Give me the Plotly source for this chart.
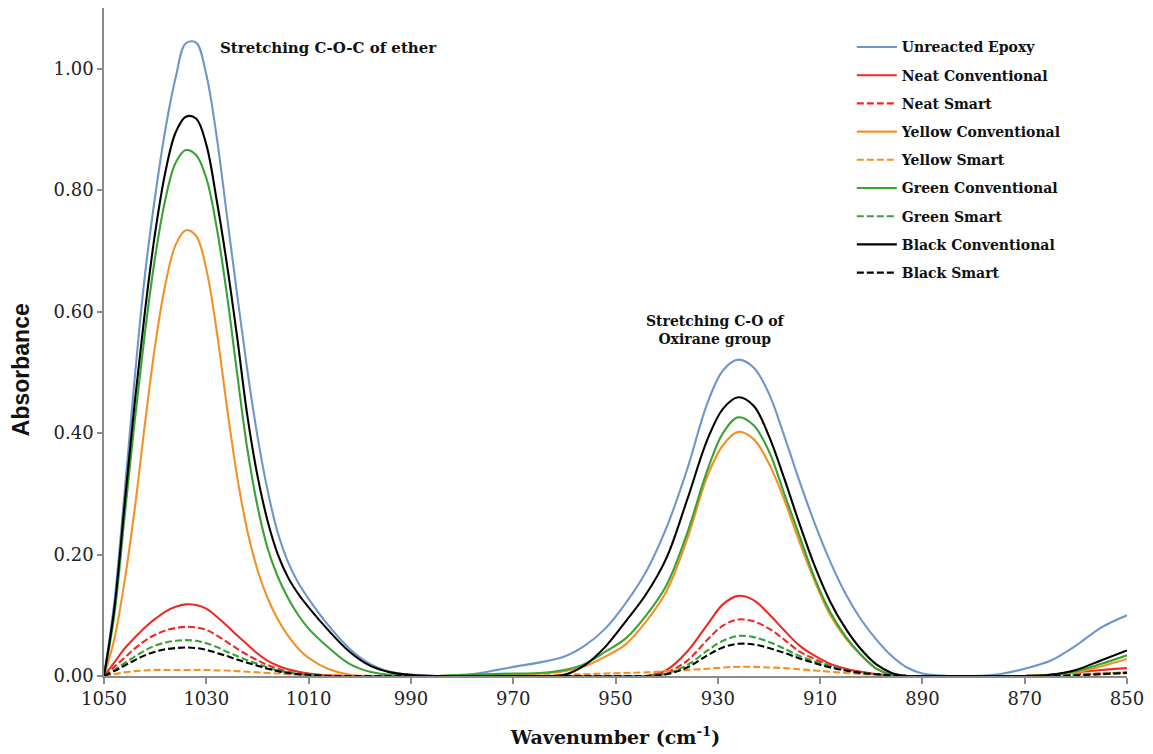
import plotly.graph_objects as go

# Wavenumber grid (cm^-1), denser around the two absorption bands
WAVENUMBER = [
    1050, 1048, 1046, 1044, 1042, 1040, 1038, 1036, 1034, 1032, 1030,
    1028, 1026, 1024, 1022, 1020, 1018, 1016, 1014, 1012, 1010,
    1006, 1002, 998, 994, 990,
    985, 980, 975, 970, 965, 960,
    956, 952, 948, 944, 940, 936, 932,
    929, 926, 923, 920, 917, 914, 911, 908, 905, 902, 899, 896, 893, 890,
    885, 880, 875, 870, 865, 860, 855, 850,
]

UNREACTED_EPOXY = [
    0.000, 0.120, 0.300, 0.490, 0.660, 0.790, 0.900, 0.985, 1.042, 1.043, 0.990,
    0.890, 0.760, 0.630, 0.505, 0.395, 0.305, 0.235, 0.187, 0.153, 0.127,
    0.082, 0.045, 0.020, 0.007, 0.002,
    0.000, 0.001, 0.007, 0.015, 0.022, 0.032,
    0.050, 0.078, 0.120, 0.172, 0.245, 0.340, 0.450,
    0.503, 0.521, 0.508, 0.465, 0.395, 0.320, 0.250, 0.188, 0.135, 0.093, 0.060, 0.033, 0.014, 0.004,
    0.000, 0.000, 0.003, 0.012, 0.025, 0.050, 0.080, 0.100,
]

NEAT_CONVENTIONAL = [
    0.000, 0.022, 0.045, 0.063, 0.080, 0.094, 0.106, 0.114, 0.118, 0.117, 0.111,
    0.098, 0.083, 0.067, 0.052, 0.037, 0.025, 0.017, 0.011, 0.007, 0.004,
    0.001, 0.000, 0.000, 0.000, 0.000,
    0.000, 0.000, 0.000, 0.000, 0.000, 0.000,
    0.000, 0.000, 0.000, 0.000, 0.010, 0.040, 0.085,
    0.118, 0.132, 0.125, 0.102, 0.075, 0.050, 0.033, 0.020, 0.012, 0.007, 0.003, 0.001, 0.000, 0.000,
    0.000, 0.000, 0.000, 0.000, 0.002, 0.006, 0.010, 0.013,
]

NEAT_SMART = [
    0.000, 0.015, 0.030, 0.045, 0.058, 0.068, 0.075, 0.079, 0.081, 0.080, 0.076,
    0.067, 0.056, 0.045, 0.035, 0.026, 0.018, 0.012, 0.007, 0.004, 0.002,
    0.000, 0.000, 0.000, 0.000, 0.000,
    0.000, 0.000, 0.000, 0.000, 0.000, 0.000,
    0.000, 0.000, 0.000, 0.000, 0.006, 0.025, 0.060,
    0.083, 0.093, 0.090, 0.078, 0.060, 0.040, 0.028, 0.017, 0.010, 0.006, 0.003, 0.001, 0.000, 0.000,
    0.000, 0.000, 0.000, 0.000, 0.001, 0.003, 0.004, 0.006,
]

YELLOW_CONVENTIONAL = [
    0.000, 0.060, 0.155, 0.275, 0.415, 0.545, 0.645, 0.710, 0.734, 0.725, 0.670,
    0.570, 0.445, 0.330, 0.240, 0.175, 0.128, 0.093, 0.066, 0.045, 0.030,
    0.011, 0.002, 0.000, 0.000, 0.000,
    0.000, 0.001, 0.002, 0.003, 0.004, 0.008,
    0.016, 0.032, 0.052, 0.090, 0.140, 0.225, 0.330,
    0.380, 0.402, 0.390, 0.350, 0.290, 0.220, 0.155, 0.100, 0.062, 0.034, 0.012, 0.002, 0.000, 0.000,
    0.000, 0.000, 0.000, 0.000, 0.002, 0.006, 0.016, 0.028,
]

YELLOW_SMART = [
    0.000, 0.003, 0.006, 0.008, 0.009, 0.010, 0.010, 0.010, 0.010, 0.010, 0.010,
    0.009, 0.009, 0.008, 0.007, 0.006, 0.005, 0.004, 0.003, 0.002, 0.002,
    0.001, 0.000, 0.000, 0.000, 0.000,
    0.000, 0.000, 0.000, 0.001, 0.001, 0.002,
    0.003, 0.004, 0.005, 0.006, 0.008, 0.010, 0.012,
    0.014, 0.015, 0.015, 0.014, 0.013, 0.011, 0.009, 0.007, 0.005, 0.003, 0.002, 0.001, 0.000, 0.000,
    0.000, 0.000, 0.000, 0.000, 0.001, 0.002, 0.004, 0.005,
]

GREEN_CONVENTIONAL = [
    0.000, 0.100, 0.260, 0.420, 0.565, 0.690, 0.785, 0.845, 0.866, 0.858, 0.820,
    0.740, 0.630, 0.500, 0.375, 0.280, 0.210, 0.163, 0.128, 0.100, 0.078,
    0.046, 0.020, 0.007, 0.002, 0.000,
    0.000, 0.002, 0.003, 0.004, 0.005, 0.010,
    0.020, 0.040, 0.062, 0.100, 0.150, 0.235, 0.340,
    0.400, 0.426, 0.413, 0.370, 0.300, 0.230, 0.160, 0.105, 0.065, 0.035, 0.012, 0.002, 0.000, 0.000,
    0.000, 0.000, 0.000, 0.000, 0.002, 0.008, 0.020, 0.034,
]

GREEN_SMART = [
    0.000, 0.010, 0.021, 0.032, 0.042, 0.050, 0.055, 0.058, 0.059, 0.058, 0.054,
    0.048, 0.040, 0.033, 0.026, 0.020, 0.014, 0.009, 0.006, 0.003, 0.002,
    0.000, 0.000, 0.000, 0.000, 0.000,
    0.000, 0.000, 0.000, 0.000, 0.000, 0.000,
    0.000, 0.000, 0.000, 0.000, 0.004, 0.018, 0.042,
    0.058, 0.066, 0.064, 0.056, 0.045, 0.033, 0.024, 0.016, 0.010, 0.006, 0.003, 0.001, 0.000, 0.000,
    0.000, 0.000, 0.000, 0.000, 0.000, 0.002, 0.004, 0.006,
]

BLACK_CONVENTIONAL = [
    0.000, 0.110, 0.280, 0.450, 0.600, 0.730, 0.830, 0.895, 0.921, 0.918, 0.875,
    0.785, 0.680, 0.560, 0.430, 0.330, 0.255, 0.200, 0.162, 0.135, 0.113,
    0.074, 0.040, 0.017, 0.006, 0.002,
    0.000, 0.000, 0.000, 0.000, 0.000, 0.002,
    0.018, 0.048, 0.090, 0.135, 0.195, 0.290, 0.390,
    0.440, 0.459, 0.445, 0.395, 0.325, 0.250, 0.180, 0.122, 0.078, 0.044, 0.019, 0.005, 0.000, 0.000,
    0.000, 0.000, 0.000, 0.000, 0.002, 0.010, 0.026, 0.042,
]

BLACK_SMART = [
    0.000, 0.008, 0.017, 0.026, 0.034, 0.040, 0.044, 0.046, 0.047, 0.046, 0.043,
    0.038, 0.033, 0.027, 0.022, 0.017, 0.012, 0.008, 0.005, 0.003, 0.002,
    0.000, 0.000, 0.000, 0.000, 0.000,
    0.000, 0.000, 0.000, 0.000, 0.000, 0.000,
    0.000, 0.000, 0.000, 0.000, 0.003, 0.014, 0.034,
    0.047, 0.053, 0.052, 0.046, 0.038, 0.029, 0.021, 0.014, 0.009, 0.005, 0.003, 0.001, 0.000, 0.000,
    0.000, 0.000, 0.000, 0.000, 0.000, 0.001, 0.003, 0.005,
]

X_TICKS = [1050, 1030, 1010, 990, 970, 950, 930, 910, 890, 870, 850]
Y_TICKS = [0.0, 0.2, 0.4, 0.6, 0.8, 1.0]

BLUE = "#6d96cb"
RED = "#ee2a24"
ORANGE = "#f39224"
GREEN = "#36a332"
BLACK = "#000000"
DASH = "7px,3px"

series = [
    ("Unreacted Epoxy", UNREACTED_EPOXY, BLUE, "solid"),
    ("Neat Conventional", NEAT_CONVENTIONAL, RED, "solid"),
    ("Neat Smart", NEAT_SMART, RED, DASH),
    ("Yellow Conventional", YELLOW_CONVENTIONAL, ORANGE, "solid"),
    ("Yellow Smart", YELLOW_SMART, ORANGE, DASH),
    ("Green Conventional", GREEN_CONVENTIONAL, GREEN, "solid"),
    ("Green Smart", GREEN_SMART, GREEN, DASH),
    ("Black Conventional", BLACK_CONVENTIONAL, BLACK, "solid"),
    ("Black Smart", BLACK_SMART, BLACK, DASH),
]

SERIF = "DejaVu Serif"

fig = go.Figure()
for name, values, color, dash in series:
    assert len(values) == len(WAVENUMBER), name
    fig.add_trace(go.Scatter(
        x=WAVENUMBER, y=values, name=name, mode="lines",
        legendgroup=name,
        line=dict(color=color, width=2.1, dash=dash, shape="spline", smoothing=1.0),
    ))

fig.add_annotation(
    x=1027.7, y=1.034, xref="x", yref="y", xanchor="left", yanchor="middle",
    text="Stretching C-O-C of ether", showarrow=False,
    font=dict(family=SERIF, size=15, color="#111", weight="bold"),
)
fig.add_annotation(
    x=930.5, y=0.57, xref="x", yref="y", xanchor="center", yanchor="middle",
    text="Stretching C-O of<br>Oxirane group", showarrow=False,
    font=dict(family=SERIF, size=14, color="#111", weight="bold"),
)
# Y-axis title placed as a rotated annotation
fig.add_annotation(
    x=-0.081, y=0.458, xref="paper", yref="paper", xanchor="center", yanchor="middle",
    text="Absorbance", textangle=-90, showarrow=False,
    font=dict(family="Liberation Sans", size=23, color="#111", weight="bold"),
)

fig.update_layout(
    width=1153, height=754,
    margin=dict(l=104, r=26, t=8, b=78),
    paper_bgcolor="white", plot_bgcolor="white",
    showlegend=True,
    legend=dict(
        x=0.731, y=0.965, xanchor="left", yanchor="top",
        bgcolor="rgba(0,0,0,0)", tracegroupgap=7, itemwidth=40,
        font=dict(family=SERIF, size=14, color="#111", weight="bold"),
    ),
    xaxis=dict(
        range=[1050, 850], tickvals=X_TICKS, ticktext=[str(v) for v in X_TICKS],
        showgrid=False, zeroline=False,
        showline=True, linecolor="#8c8c8c", linewidth=1.6,
        ticks="outside", ticklen=6, tickcolor="#8c8c8c", tickwidth=1.5,
        tickfont=dict(family=SERIF, size=18, color="#222"),
        title=dict(text="Wavenumber (cm<sup>-1</sup>)", standoff=22,
                   font=dict(family=SERIF, size=19, color="#111", weight="bold")),
    ),
    yaxis=dict(
        range=[0, 1.1], tickvals=Y_TICKS, tickformat=".2f",
        showgrid=False, zeroline=False,
        showline=True, linecolor="#8c8c8c", linewidth=1.6,
        ticks="outside", ticklen=5, tickcolor="#8c8c8c", tickwidth=1.5,
        tickfont=dict(family=SERIF, size=18, color="#222"),
    ),
)

fig.write_html("out.html")
